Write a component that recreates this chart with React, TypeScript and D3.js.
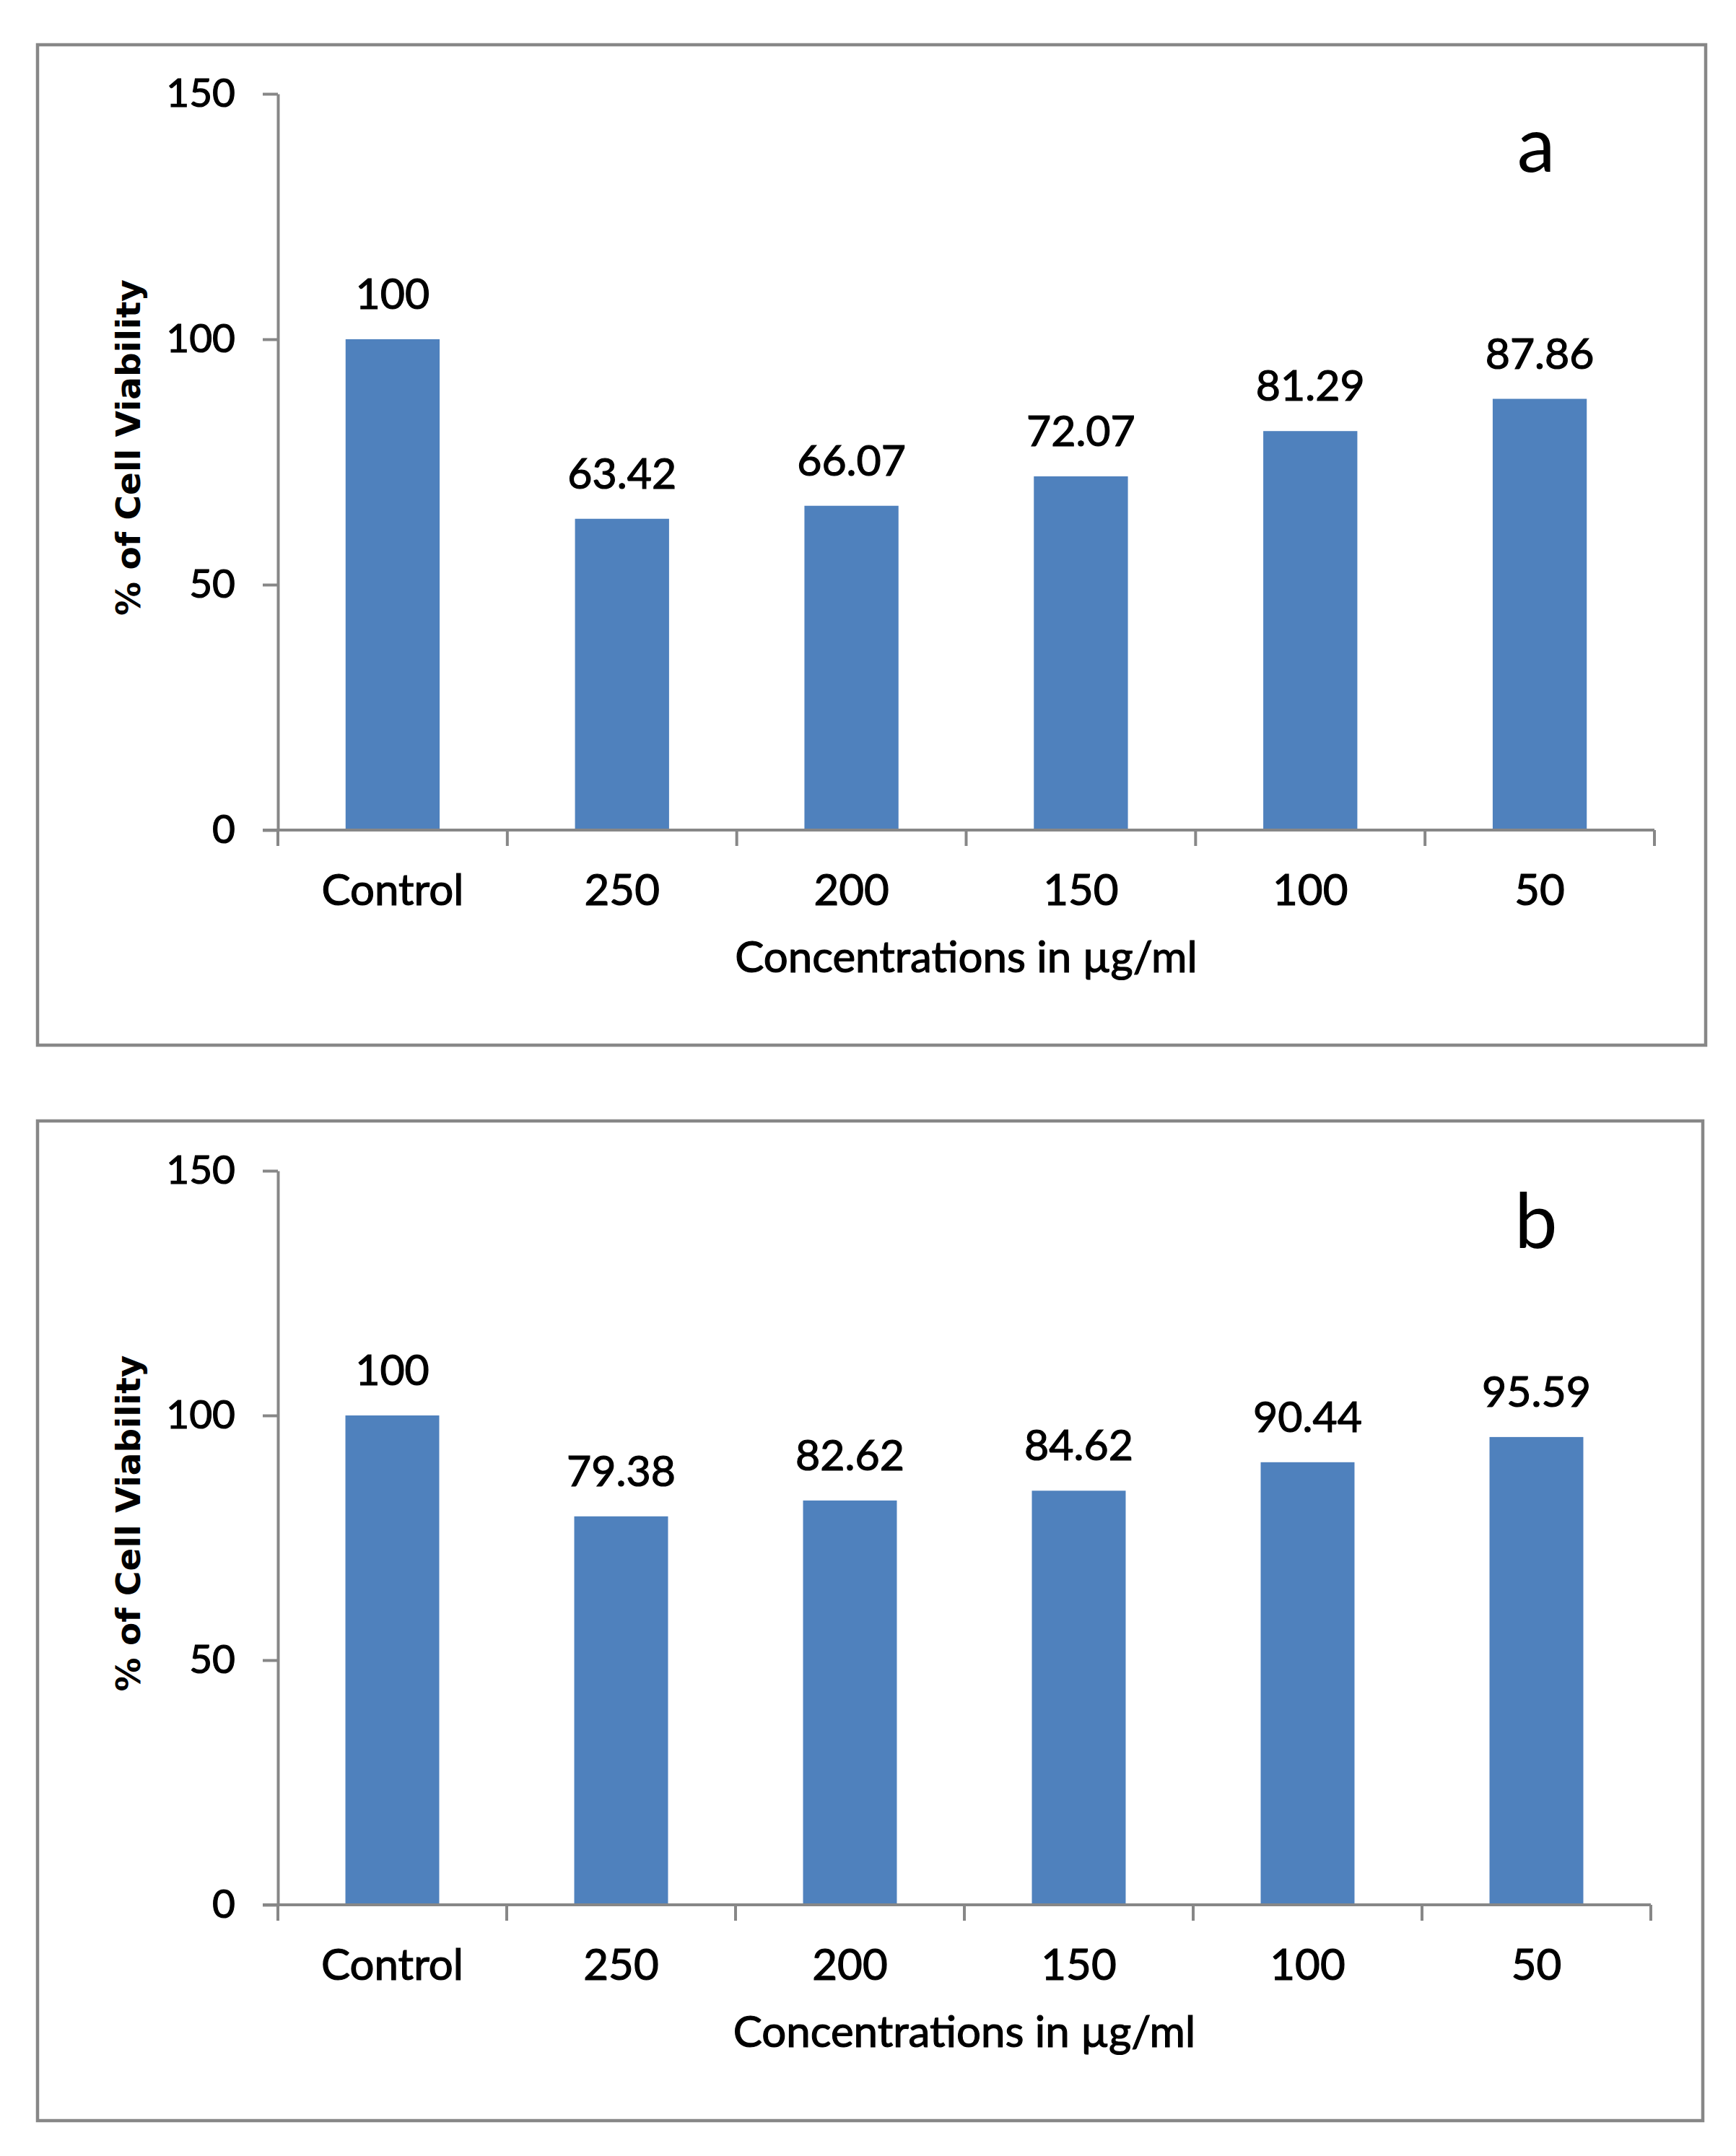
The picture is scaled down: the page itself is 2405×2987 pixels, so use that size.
import React, { useRef, useEffect } from "react";
import * as d3 from "d3";

// categories along the x axis (concentration in µg/ml)
const categories = ["Control", "250", "200", "150", "100", "50"];
// % of cell viability, panel a and panel b
const viabilityA = [100, 63.42, 66.07, 72.07, 81.29, 87.86];
const viabilityB = [100, 79.38, 82.62, 84.62, 90.44, 95.59];
const yTicks = [0, 50, 100, 150];
const panelNames = ["a", "b"];

const W = 2405;
const H = 2987;
const BAR = "#4F81BD";
const GRAY = "#878787";
const FONT = "Lato, 'Open Sans', sans-serif";

const App = () => {
  const svgRef = useRef<SVGSVGElement>(null);

  useEffect(() => {
    if (!svgRef.current) return;
    const root = d3.select(svgRef.current);
    root.selectAll("*").remove();

    const panels = [
      { name: panelNames[0], values: viabilityA, top: 62, bottom: 1448, right: 2363, axisRight: 2292, plotTop: 130, plotBottom: 1150 },
      { name: panelNames[1], values: viabilityB, top: 1553, bottom: 2938, right: 2359, axisRight: 2287, plotTop: 1622, plotBottom: 2639 },
    ];

    panels.forEach((p) => {
      const frameLeft = 52;
      const axisLeft = 385;

      // outer frame
      root
        .append("rect")
        .attr("x", frameLeft)
        .attr("y", p.top)
        .attr("width", p.right - frameLeft)
        .attr("height", p.bottom - p.top)
        .attr("fill", "white")
        .attr("stroke", GRAY)
        .attr("stroke-width", 4.5);

      const x = d3
        .scaleBand()
        .domain(categories)
        .range([axisLeft, p.axisRight])
        .paddingInner(0.59)
        .paddingOuter(0.295);

      const y = d3.scaleLinear().domain([0, 150]).range([p.plotBottom, p.plotTop]);

      const g = root.append("g");

      // bars
      g.selectAll("rect.bar")
        .data(p.values)
        .enter()
        .append("rect")
        .attr("class", "bar")
        .attr("x", (_, i) => x(categories[i]) as number)
        .attr("y", (d) => y(d))
        .attr("width", x.bandwidth())
        .attr("height", (d) => y(0) - y(d))
        .attr("fill", BAR);

      // value labels
      g.selectAll("text.val")
        .data(p.values)
        .enter()
        .append("text")
        .attr("class", "val")
        .attr("x", (_, i) => (x(categories[i]) as number) + x.bandwidth() / 2)
        .attr("y", (d) => y(d) - 42)
        .attr("text-anchor", "middle")
        .attr("font-family", FONT)
        .attr("font-size", 59)
        .attr("fill", "#000")
        .attr("stroke", "#000")
        .attr("stroke-width", 1.2)
        .text((d) => String(d));

      // y axis
      const yAxis = g
        .append("g")
        .attr("transform", `translate(${axisLeft},0)`)
        .call(d3.axisLeft(y).tickValues(yTicks).tickSize(21).tickSizeOuter(0).tickPadding(38));
      yAxis.select(".domain").attr("stroke", GRAY).attr("stroke-width", 4);
      yAxis.selectAll(".tick line").attr("stroke", GRAY).attr("stroke-width", 4);
      yAxis
        .selectAll(".tick text")
        .attr("font-family", FONT)
        .attr("font-size", 55)
        .attr("fill", "#000")
        .attr("stroke", "#000")
        .attr("stroke-width", 1.2);

      // x axis: ticks sit on band boundaries
      const step = x.step();
      const bounds = d3.range(categories.length + 1).map((i) => axisLeft + i * step);
      g.append("line")
        .attr("x1", axisLeft - 21)
        .attr("x2", p.axisRight)
        .attr("y1", y(0))
        .attr("y2", y(0))
        .attr("stroke", GRAY)
        .attr("stroke-width", 4);
      g.selectAll("line.xt")
        .data(bounds)
        .enter()
        .append("line")
        .attr("class", "xt")
        .attr("x1", (d) => d)
        .attr("x2", (d) => d)
        .attr("y1", y(0))
        .attr("y2", y(0) + 22)
        .attr("stroke", GRAY)
        .attr("stroke-width", 4);
      g.selectAll("text.xl")
        .data(categories)
        .enter()
        .append("text")
        .attr("class", "xl")
        .attr("x", (d) => (x(d) as number) + x.bandwidth() / 2)
        .attr("y", y(0) + 104)
        .attr("text-anchor", "middle")
        .attr("font-family", FONT)
        .attr("font-size", 60)
        .attr("fill", "#000")
        .attr("stroke", "#000")
        .attr("stroke-width", 1.2)
        .text((d) => d);

      // axis titles
      g.append("text")
        .attr("x", (axisLeft + p.axisRight) / 2)
        .attr("y", y(0) + 197)
        .attr("text-anchor", "middle")
        .attr("font-family", FONT)
        .attr("font-size", 60)
        .attr("fill", "#000")
        .attr("stroke", "#000")
        .attr("stroke-width", 1.2)
        .text("Concentrations in µg/ml");

      g.append("text")
        .attr("transform", `translate(194,${(p.plotTop + p.plotBottom) / 2 - 20}) rotate(-90)`)
        .attr("text-anchor", "middle")
        .attr("font-family", "'DejaVu Sans', Verdana, sans-serif")
        .attr("font-weight", "bold")
        .attr("font-size", 47)
        .attr("fill", "#000")
        .text("% of Cell Viability");

      // panel letter
      g.append("text")
        .attr("x", 2128)
        .attr("y", p.top + 176)
        .attr("text-anchor", "middle")
        .attr("font-family", FONT)
        .attr("font-size", 106)
        .attr("fill", "#000")
        .text(p.name);
    });
  }, []);

  return (
    <div style={{ position: "absolute", left: 0, top: 0, width: W, height: H, background: "white" }}>
      <svg ref={svgRef} width={W} height={H}></svg>
    </div>
  );
};

export default App;
